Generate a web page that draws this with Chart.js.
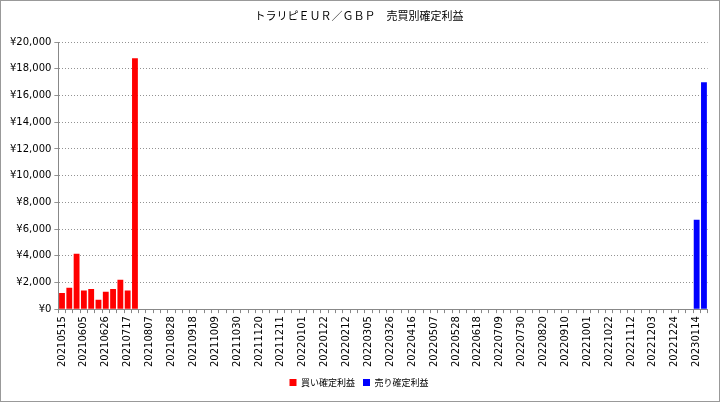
<!DOCTYPE html>
<html><head><meta charset="utf-8">
<script src="https://cdn.jsdelivr.net/npm/chart.js@4"></script>
<style>html,body{margin:0;padding:0;background:#fff}#w{width:718px;height:400px;border:1px solid #999;position:relative}</style>
</head><body><div id="w"><canvas id="c"></canvas></div>
<script>
const startDate = "20210515";
const weekCount = 89;
const buyValues = [1200,1600,4150,1400,1500,700,1300,1500,2200,1400,18800];
const sellValues = [6700,17000];
const yTicks = [0,2000,4000,6000,8000,10000,12000,14000,16000,18000,20000];

const categories = [];
let d = new Date(Date.UTC(2021,4,15));
for (let i=0;i<weekCount;i++){
  const s = d.getUTCFullYear()+String(d.getUTCMonth()+1).padStart(2,'0')+String(d.getUTCDate()).padStart(2,'0');
  categories.push(s); d = new Date(d.getTime()+7*86400000);
}
const buy = categories.map((c,i)=> i<buyValues.length ? buyValues[i] : 0);
const sell = categories.map((c,i)=> { const k=i-(weekCount-sellValues.length); return k>=0 ? sellValues[k] : 0; });

const F = "'Noto Sans CJK JP', sans-serif";
const V = "'DejaVu Sans', sans-serif";
new Chart(document.getElementById('c'), {
  type:'bar',
  data:{labels:categories, datasets:[
    {label:'買い確定利益', data:buy, backgroundColor:'#ff0000', grouped:false, barPercentage:0.8, categoryPercentage:1},
    {label:'売り確定利益', data:sell, backgroundColor:'#0000ff', grouped:false, barPercentage:0.8, categoryPercentage:1}
  ]},
  options:{
    responsive:true, maintainAspectRatio:false, animation:false,
    layout:{padding:{left:6,right:8,top:4,bottom:4}},
    plugins:{
      title:{display:true, text:'トラリピＥＵＲ／ＧＢＰ　売買別確定利益', color:'#000', font:{family:F,size:11,weight:'normal'}, padding:{top:4,bottom:20}},
      legend:{position:'bottom', labels:{boxWidth:7, boxHeight:7, color:'#000', font:{family:F,size:9}, padding:8}},
      tooltip:{enabled:false}
    },
    scales:{
      x:{grid:{display:true, drawOnChartArea:false, drawTicks:true, tickLength:4, color:'#888'}, border:{color:'#888'},
        ticks:{autoSkip:false, maxRotation:90, minRotation:90, color:'#000', font:{family:V,size:10},
          callback:(v,i)=> i%3===0 ? categories[i] : ''}},
      y:{min:0,max:20000, afterBuildTicks:ax=>{ax.ticks=yTicks.map(v=>({value:v}));},
        grid:{color:'#777', lineWidth:0.8, tickLength:4}, border:{color:'#888', dash:[1,2]},
        ticks:{color:'#000', font:{family:V,size:10}, callback:v=>'¥'+v.toLocaleString('en-US')}}
    }
  }
});
</script></body></html>
